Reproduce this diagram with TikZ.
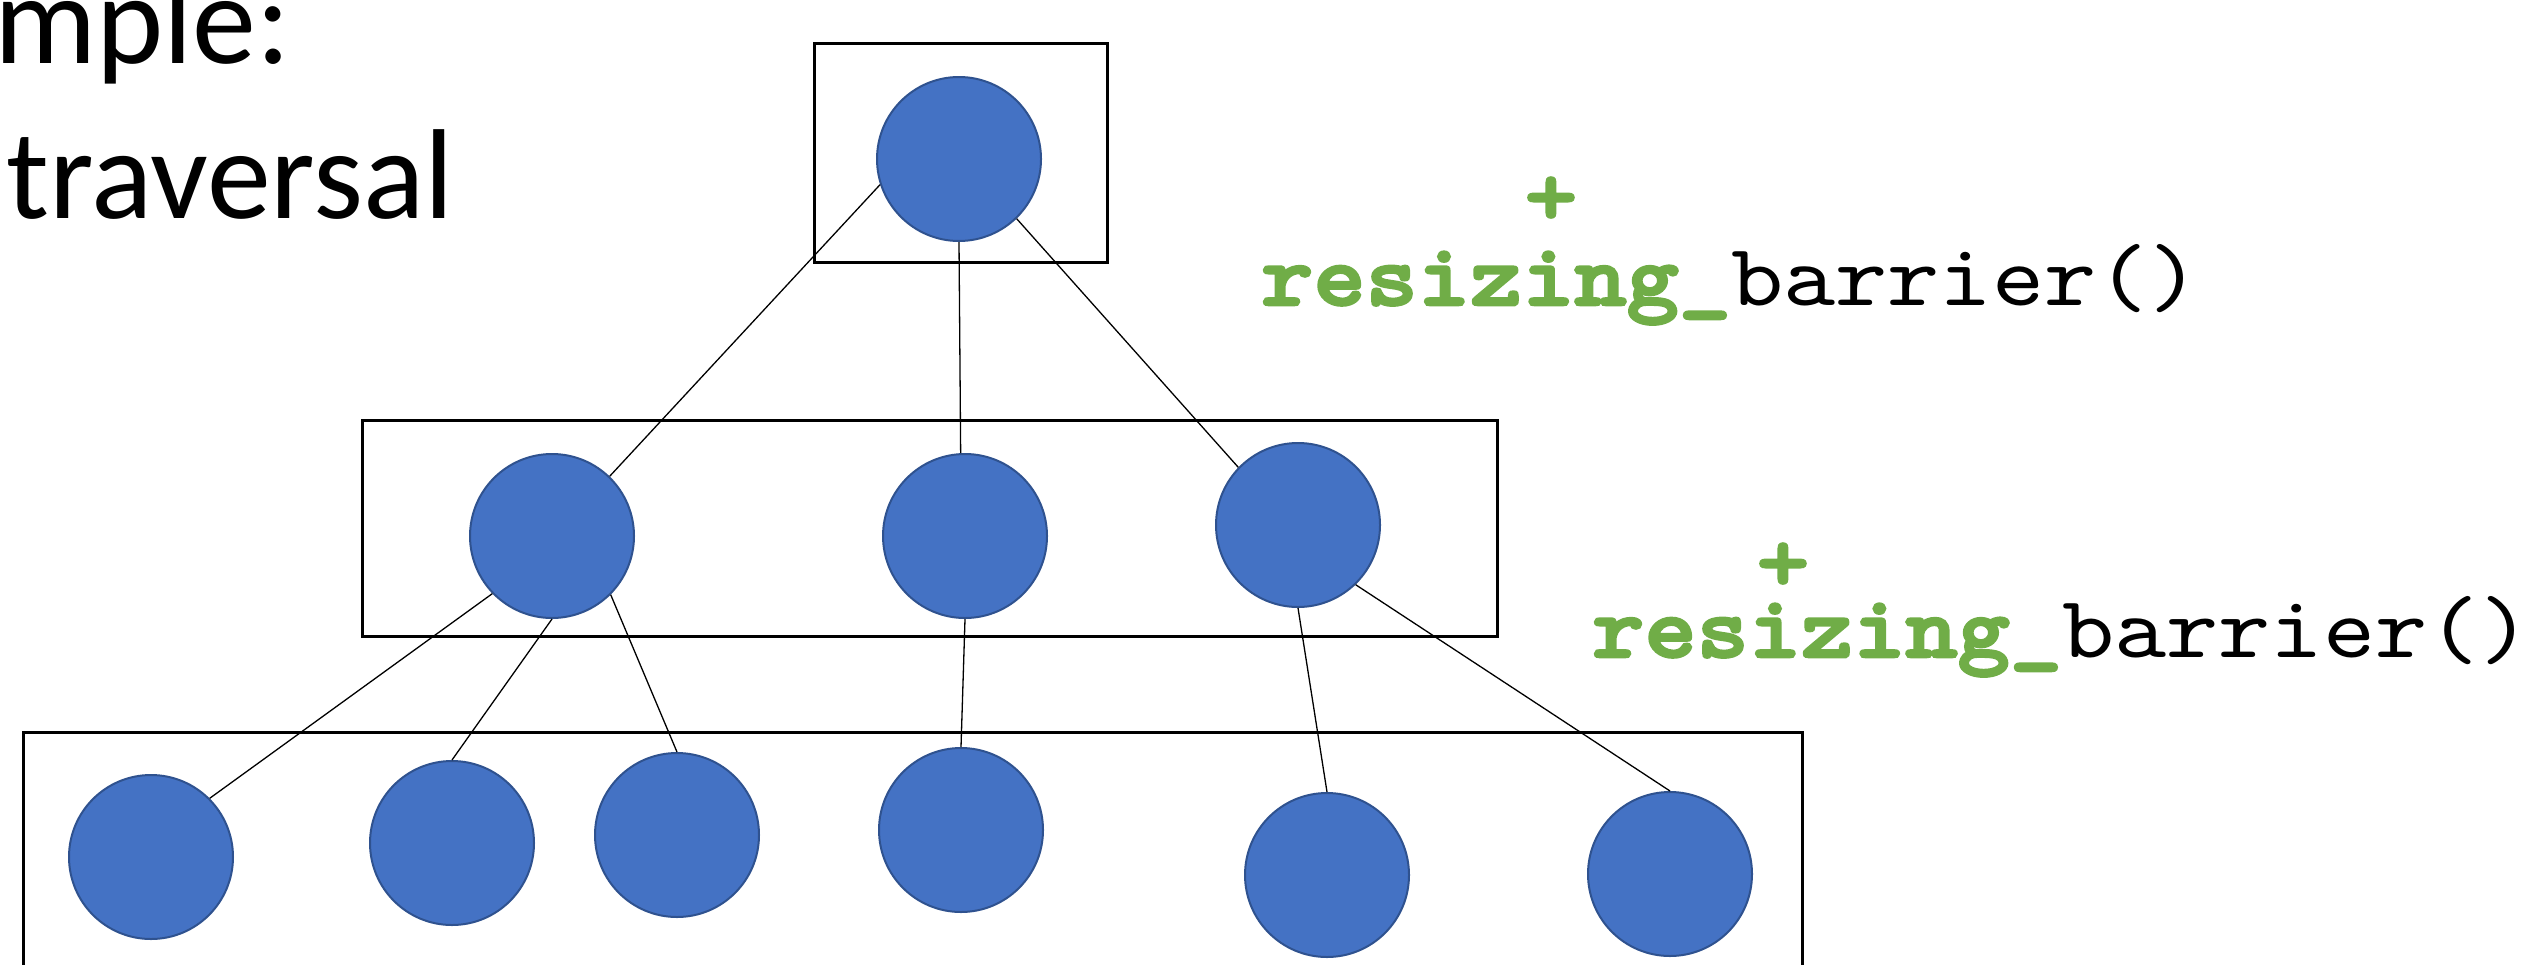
\documentclass[tikz,border=0pt]{standalone}
\usepackage{fontspec}
\setmainfont{Carlito}
\newfontfamily\codefont{lmmono10-regular}[Extension=.otf, BoldFont=lmmonolt10-bold, FakeStretch=1.13, BoldFeatures={FakeBold=3}]
\definecolor{nodefill}{HTML}{4472C4}
\definecolor{nodeline}{HTML}{2F528F}
\definecolor{codegreen}{HTML}{70AD47}
\begin{document}
\begin{tikzpicture}[x=1pt,y=-1pt,
  tnode/.style={circle,fill=nodefill,draw=nodeline,line width=2pt,minimum size=164pt,inner sep=0pt},
  levelbox/.style={draw=black,line width=3pt},
  edge/.style={draw=black,line width=1.3pt},
  title/.style={anchor=base west,inner sep=0pt,font=\fontsize{128}{150}\selectfont},
  code/.style={anchor=base west,inner sep=0pt,font=\codefont\fontsize{88}{100}\selectfont},
  plus/.style={inner sep=0pt,text=codegreen,font=\codefont\bfseries\fontsize{88}{100}\selectfont}]
\useasboundingbox (0,0) rectangle (2523,964);
\clip (0,0) rectangle (2523,964);
% level boxes
\draw[levelbox] (814,43) rectangle (1107,262);
\draw[levelbox] (362,420) rectangle (1497,636);
\draw[levelbox] (23,732) rectangle (1802,1010);
% nodes
\node[tnode] (t) at (959,159) {};
\node[tnode] (m1) at (552,536) {};
\node[tnode] (m2) at (965,536) {};
\node[tnode] (m3) at (1298,525) {};
\node[tnode] (b1) at (151,857) {};
\node[tnode] (b2) at (452,843) {};
\node[tnode] (b3) at (677,835) {};
\node[tnode] (b4) at (961,830) {};
\node[tnode] (b5) at (1327,875) {};
\node[tnode] (b6) at (1670,874) {};
% edges
\draw[edge] (t.198) -- (m1.46);
\draw[edge] (t.270) -- (m2.93);
\draw[edge] (t.314) -- (m3.136);
\draw[edge] (m1.224) -- (b1.45);
\draw[edge] (m1.270) -- (b2.90);
\draw[edge] (m1.315) -- (b3.90);
\draw[edge] (m2.270) -- (b4.90);
\draw[edge] (m3.270) -- (b5.90);
\draw[edge] (m3.314) -- (b6.90);
% title
\node[title] (title1) at (-6,63) {mple:};
\node[title] (title2) at (6,218) {traversal};
% code labels
\node[code] (code1) at (1261,305) {\textcolor{codegreen}{\bfseries resizing\_}barrier()};
\node[plus] (plus1) at (1551,201) {+};
\node[code] (code2) at (1592,657) {\textcolor{codegreen}{\bfseries resizing\_}barrier()};
\node[plus] (plus2) at (1783,567) {+};
\end{tikzpicture}
\end{document}
